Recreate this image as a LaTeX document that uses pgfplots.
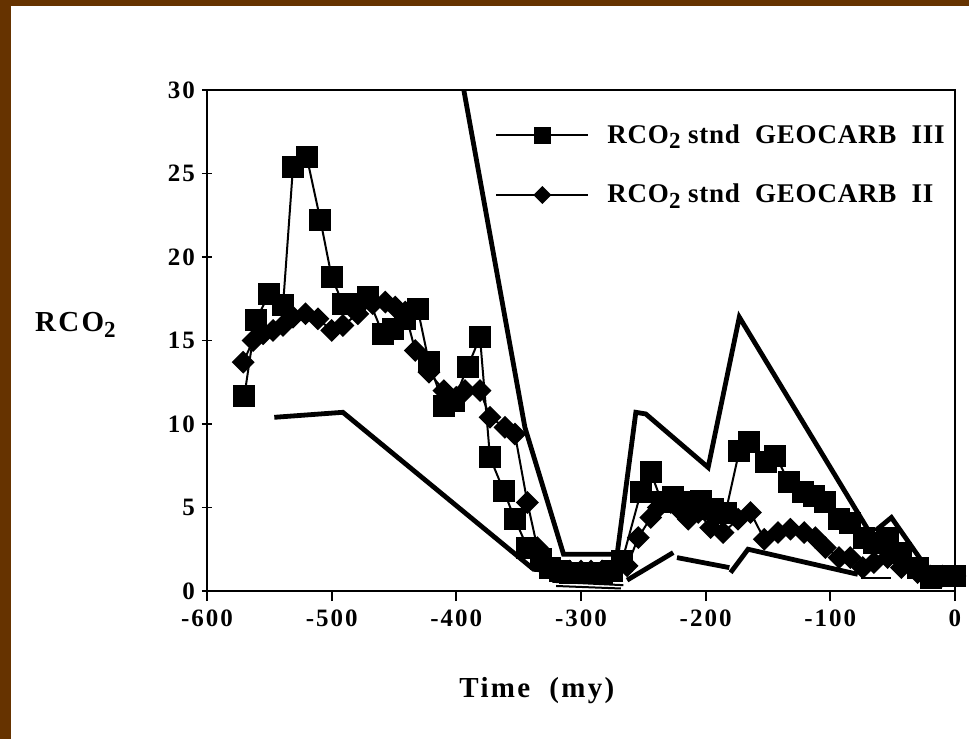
\documentclass[border=0pt]{standalone}
\usepackage{fontspec}
\setmainfont{Liberation Serif}
\usepackage{pgfplots}
\pgfplotsset{compat=1.18}
\definecolor{framebrown}{HTML}{663300}
\newcommand{\lab}{\bfseries\addfontfeatures{LetterSpace=8}}
\newcommand{\sub}[1]{\raisebox{-0.45ex}{\fontsize{11.5}{11.5}\selectfont #1}}

\begin{document}
\begin{tikzpicture}
\fill[framebrown] (-103.5pt,-74pt) rectangle (381pt,295.5pt);
\fill[white] (-98pt,-74pt) rectangle (381pt,292.5pt);
\useasboundingbox (-103.5pt,-74pt) rectangle (381pt,295.5pt);
\begin{axis}[
  at={(0pt,0pt)}, anchor=south west,
  scale only axis, width=374pt, height=250.5pt,
  xmin=-600, xmax=0, ymin=0, ymax=30,
  clip mode=individual,
  axis line style={line width=1pt},
  xtick={-600,-500,...,0},
  xticklabels={-600,-500,-400,-300,-200,-100,0},
  ytick={0,5,...,30},
  yticklabels={0,5,10,15,20,25,30},
  major tick length=5pt,
  every tick/.style={black,line width=0.9pt},
  xtick align=outside, ytick align=center,
  xtick pos=bottom, ytick pos=left,
  ticklabel style={font=\fontsize{12.5}{12.5}\selectfont\lab},
  xticklabel style={yshift=-1pt},
  xlabel={Time\ \ (my)},
  xlabel style={font=\fontsize{14.5}{14.5}\selectfont\lab, at={(axis description cs:0.441,-0.198)}, anchor=center},
  ylabel={RCO\sub{2}},
  ylabel style={font=\fontsize{14.5}{14.5}\selectfont\lab, rotate=-90, at={(axis description cs:-0.176,0.531)}, anchor=center},
  legend style={draw=none, fill=none, at={(axis description cs:0.377,0.948)}, anchor=north west,
    font=\fontsize{13.5}{13.5}\selectfont\bfseries\addfontfeatures{LetterSpace=3}, row sep=15pt, legend cell align=left},
  legend image code/.code={
    \draw[#1, mark=none] (0pt,0pt) -- (46pt,0pt);
    \draw[#1, mark size=3.8pt] plot coordinates {(23pt,0pt)};
  },
]
% GEOCARB III (squares)
\addplot[black, line width=1pt, mark=square*, mark size=5pt, mark options={solid}] coordinates {
(-570,11.7) (-561,16.2) (-550,17.8) (-539,17.1) (-531,25.4) (-520,26.0)
(-509,22.2) (-500,18.8) (-491,17.2) (-481,17.2) (-471,17.6) (-459,15.4)
(-451,15.7) (-441,16.3) (-431,16.9) (-422,13.7) (-410,11.1) (-402,11.4)
(-391,13.4) (-381,15.2) (-373,8.0) (-362,6.0) (-353,4.3) (-343,2.6)
(-332,1.9) (-325,1.4) (-317,1.2) (-309,1.1) (-300,1.1) (-292,1.1)
(-283,1.1) (-275,1.2) (-267,1.8) (-252,5.9) (-244,7.1) (-235,5.3)
(-226,5.6) (-215,5.3) (-204,5.4) (-194,4.9) (-184,4.7) (-173,8.4)
(-165,8.9) (-152,7.7) (-144,8.1) (-133,6.5) (-122,5.9) (-113,5.7)
(-104,5.3) (-93,4.3) (-84,4.1) (-73,3.2) (-65,2.9) (-54,3.2)
(-43,2.3) (-30,1.4) (-19,0.8) (-11,0.9) (0,0.9)
};
\addlegendentry{\hspace{7pt}RCO\sub{2}\ stnd\ \ GEOCARB\ \ III}
% GEOCARB II (diamonds)
\addplot[black, line width=1pt, mark=diamond*, mark size=5pt, mark options={solid,xscale=1.333}] coordinates {
(-571,13.7) (-563,15.0) (-555,15.4) (-547,15.6) (-539,15.9) (-531,16.4)
(-521,16.6) (-511,16.3) (-500,15.6) (-491,15.9) (-479,16.6) (-467,17.2)
(-457,17.3) (-449,17.0) (-441,16.7) (-433,14.4) (-422,13.1) (-410,12.0)
(-400,11.6) (-393,12.0) (-381,12.0) (-373,10.4) (-361,9.8) (-353,9.4)
(-343,5.3) (-335,2.6) (-327,1.6) (-318,1.3) (-309,1.2) (-300,1.2)
(-292,1.2) (-283,1.2) (-275,1.2) (-263,1.5) (-254,3.2) (-244,4.4)
(-238,5.0) (-228,5.3) (-220,4.8) (-214,4.3) (-206,4.7) (-196,3.8)
(-186,3.5) (-174,4.3) (-164,4.7) (-153,3.1) (-142,3.5) (-132,3.7)
(-121,3.5) (-112,3.2) (-104,2.6) (-93,2.0) (-84,2.0) (-74,1.4)
(-65,1.7) (-54,2.0) (-43,1.4) (-30,1.1) (-20,0.9) (-10,0.9) (0,0.9)
};
\addlegendentry{\hspace{7pt}RCO\sub{2}\ stnd\ \ GEOCARB\ \ II}
% thick unmarked curves
\addplot[black, line width=2.4pt, forget plot] coordinates {
(-394,30) (-345,9.8) (-314,2.2) (-271,2.2) (-256,10.7) (-248,10.6)
(-198,7.4) (-173,16.4) (-70,3.7)
};
\addplot[black, line width=2.4pt, forget plot] coordinates {
(-64,3.6) (-51,4.4) (-22,1.3) (0,0.8)
};
\addplot[black, line width=2.4pt, forget plot] coordinates {
(-546,10.4) (-491,10.7) (-338,1.3) (-320,1.2)
};
\addplot[black, line width=2.4pt, forget plot] coordinates {
(-263,0.65) (-226,2.3)
};
\addplot[black, line width=2.4pt, forget plot] coordinates {
(-223,2.0) (-181,1.4)
};
\addplot[black, line width=2.4pt, forget plot] coordinates {
(-180,1.1) (-166,2.5) (-78,1.0)
};
\addplot[black, line width=1pt, forget plot] coordinates {(-75,0.8) (-51,0.8)};
\addplot[black, line width=1pt, forget plot] coordinates {(-323,0.55) (-266,0.35)};
\addplot[black, line width=1pt, forget plot] coordinates {(-320,0.3) (-268,0.15)};
\end{axis}
\end{tikzpicture}
\end{document}
